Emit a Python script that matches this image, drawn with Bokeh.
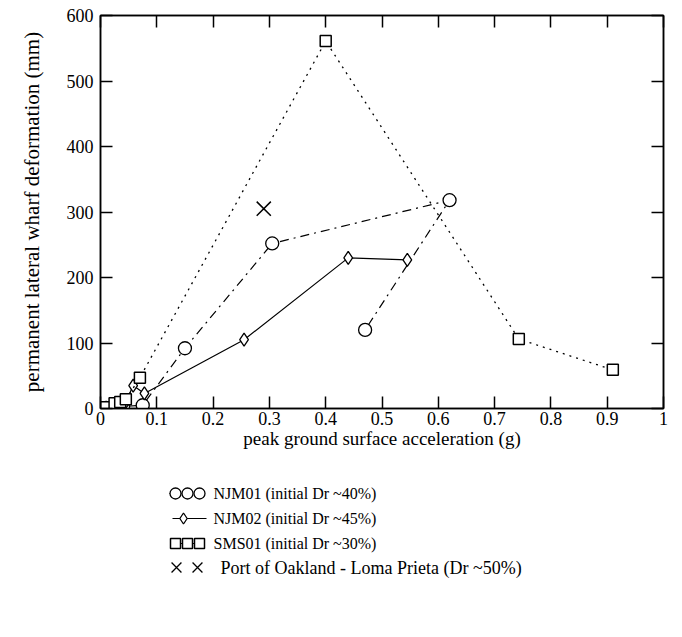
from bokeh.plotting import figure
from bokeh.models import LinearAxis, Range1d, FixedTicker, Label
from bokeh.layouts import column
from bokeh.embed import file_html
from bokeh.resources import INLINE

# peak ground surface acceleration (g) vs permanent lateral wharf deformation (mm)
njm01_pga = [0.01, 0.04, 0.075, 0.15, 0.305, 0.62, 0.47]
njm01_def = [1, 3, 5, 92, 252, 318, 120]

njm02_pga = [0.02, 0.045, 0.058, 0.078, 0.255, 0.44, 0.545]
njm02_def = [2, 10, 35, 23, 105, 230, 227]

sms01_pga = [0.01, 0.025, 0.035, 0.045, 0.07, 0.40, 0.743, 0.91]
sms01_def = [2, 8, 10, 14, 47, 561, 106, 59]

oakland_pga = [0.29]
oakland_def = [305]

x_ticks = [0, 0.1, 0.2, 0.3, 0.4, 0.5, 0.6, 0.7, 0.8, 0.9, 1]
y_ticks = [0, 100, 200, 300, 400, 500, 600]

legend_labels = [
    "NJM01 (initial Dr ~40%)",
    "NJM02 (initial Dr ~45%)",
    "SMS01 (initial Dr ~30%)",
    "Port of Oakland - Loma Prieta (Dr ~50%)",
]

FONT = "Liberation Serif"

p = figure(
    width=682, height=460,
    x_range=Range1d(0, 1), y_range=Range1d(0, 600),
    output_backend="svg", toolbar_location=None,
    min_border_left=100, min_border_right=19,
    min_border_top=15, min_border_bottom=52,
    background_fill_color="white", border_fill_color="white",
)
p.xgrid.visible = False
p.ygrid.visible = False
p.outline_line_color = "black"
p.outline_line_width = 1.5

# tick-only axes on top and right to close the frame
p.add_layout(LinearAxis(), "above")
p.add_layout(LinearAxis(), "right")

bottom, left = p.below[0], p.left[0]
top, right = p.above[0], p.right[0]

for ax, ticks in ((bottom, x_ticks), (top, x_ticks), (left, y_ticks), (right, y_ticks)):
    ax.ticker = FixedTicker(ticks=ticks)
    ax.major_tick_in = 12
    ax.major_tick_out = 0
    ax.minor_tick_line_color = None
    ax.axis_line_color = "black"
    ax.axis_line_width = 1.5
    ax.major_tick_line_color = "black"
    ax.major_tick_line_width = 1.5
    ax.major_label_text_font = FONT
    ax.major_label_text_color = "black"
    ax.major_label_text_font_size = "18px"

for ax, ticks in ((top, x_ticks), (right, y_ticks)):
    ax.major_label_overrides = {t: "" for t in ticks}
    ax.major_label_text_color = None
    ax.major_label_standoff = 0

bottom.major_label_overrides = {0: "0", 1: "1"}
bottom.major_label_standoff = 3
left.major_label_standoff = 7

bottom.axis_label = "peak ground surface acceleration (g)"
left.axis_label = "permanent lateral wharf deformation (mm)"
for ax in (bottom, left):
    ax.axis_label_text_font = FONT
    ax.axis_label_text_font_style = "normal"
    ax.axis_label_text_color = "black"
bottom.axis_label_text_font_size = "19px"
left.axis_label_text_font_size = "21px"
bottom.axis_label_standoff = 0
left.axis_label_standoff = 20

# NJM01: dash-dot line with open circles
p.line(njm01_pga, njm01_def, line_color="black", line_width=1.2, line_dash="9 5 2 5")
p.scatter(njm01_pga, njm01_def, marker="circle", size=13, fill_color="white",
          line_color="black", line_width=1.3)

# NJM02: solid line with open diamonds
p.line(njm02_pga, njm02_def, line_color="black", line_width=1.2)
p.scatter(njm02_pga, njm02_def, marker="diamond", size=13, fill_color="white",
          line_color="black", line_width=1.3)

# SMS01: dotted line with open squares
p.line(sms01_pga, sms01_def, line_color="black", line_width=1.3, line_dash="2 5")
p.scatter(sms01_pga, sms01_def, marker="square", size=11, fill_color="white",
          line_color="black", line_width=1.5)

# Port of Oakland field case
p.scatter(oakland_pga, oakland_def, marker="x", size=20, line_color="black", line_width=1.5)

# legend panel; its frame lines up with the chart frame, so x runs in page pixels
# from the frame's left edge (100) to its right edge (663), y runs down the page
leg = figure(
    frame_width=563, frame_height=177,
    x_range=Range1d(100, 663), y_range=Range1d(637, 460),
    x_axis_location=None, y_axis_location=None,
    output_backend="svg", toolbar_location=None,
    min_border_left=100, min_border_right=19,
    min_border_top=0, min_border_bottom=0,
    background_fill_color="white", border_fill_color="white",
)
leg.xgrid.visible = False
leg.ygrid.visible = False
leg.outline_line_color = None

rows = [493, 518, 543, 567]

leg.line([169, 181], [rows[0], rows[0]], line_color="black", line_width=1.2)
leg.scatter([175, 187, 199], [rows[0]] * 3, marker="circle", size=11, fill_color="white",
            line_color="black", line_width=1.3)

leg.line([172, 206], [rows[1], rows[1]], line_color="black", line_width=1.2)
leg.scatter([183], [rows[1]], marker="diamond", size=11, fill_color="white",
            line_color="black", line_width=1.3)

leg.line([171, 203], [rows[2], rows[2]], line_color="black", line_width=1.2)
leg.scatter([175, 187, 199], [rows[2]] * 3, marker="square", size=10, fill_color="white",
            line_color="black", line_width=1.5)

leg.scatter([176, 197], [rows[3]] * 2, marker="x", size=14, line_color="black", line_width=1.3)

for i, (txt, y) in enumerate(zip(legend_labels, rows)):
    leg.add_layout(Label(x=213 if i < 3 else 220, y=y, text=txt, text_font=FONT,
                         text_font_size="16px" if i < 3 else "18px",
                         text_baseline="middle", text_color="black"))

layout = column(p, leg, spacing=0)
open("out.html", "w").write(file_html(layout, INLINE))
